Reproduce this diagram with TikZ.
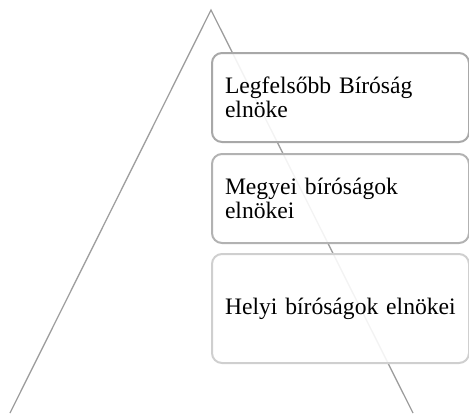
\documentclass[tikz,border=0pt]{standalone}
\usepackage{fontspec}
\setmainfont{Liberation Serif}
\begin{document}
\begin{tikzpicture}[x=1pt,y=-1pt,
  edge/.style={draw=black!38, line width=1.3pt},
  level/.style={draw=#1, line width=2pt, fill=white, fill opacity=0.88,
    text opacity=1, rounded corners=10pt, minimum width=257pt,
    text width=231pt, inner xsep=13pt, inner ysep=0pt, align=left,
    anchor=north west, font=\fontsize{23.6}{24.6}\selectfont},
]
\useasboundingbox (0,0) rectangle (469,413);
% pyramid outline
\coordinate (apex) at (211,10);
\coordinate (bl) at (10,413);
\coordinate (br) at (413,413);
\draw[edge] (bl) -- (apex) -- (br);
% hierarchy levels
\node[level=black!34, minimum height=89pt] (l1) at (211,52) {\mbox{Legfelsőbb Bíróság}\\\mbox{elnöke}};
\node[level=black!30, minimum height=89pt] (l2) at (211,153) {\mbox{Megyei bíróságok}\\\mbox{elnökei}};
\node[level=black!19, minimum height=109pt] (l3) at (211,253) {\mbox{Helyi bíróságok elnökei}};
\end{tikzpicture}
\end{document}
